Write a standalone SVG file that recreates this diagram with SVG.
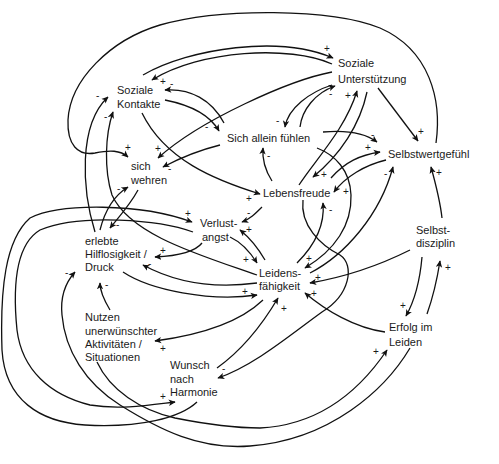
<svg xmlns="http://www.w3.org/2000/svg" width="499" height="464" viewBox="0 0 499 464">
<defs>
<marker id="ah" viewBox="0 0 10 10" refX="9" refY="5" markerWidth="7" markerHeight="7" markerUnits="userSpaceOnUse" orient="auto">
<path d="M0,0.5 L10,5 L0,9.5 L2.5,5 z" fill="#111"/>
</marker>
<style>
.n{font-family:"Liberation Sans",Arial,sans-serif;font-size:11px;fill:#1a1a1a}
.s{font-family:"Liberation Sans",Arial,sans-serif;font-size:10px;fill:#1a1a1a}
.c path{fill:none;stroke:#111;stroke-width:1.3}
.c path.a{marker-end:url(#ah)}
</style>
</defs>
<rect width="499" height="464" fill="#fff"/>
<g class="c" id="connectors">
<path class="a" d="M436,143 C442,100 430,50 380,28 C330,8 220,8 160,25 C110,40 70,80 68,120 C67,145 78,156 95,153 C110,150 120,150 128,157"/>
<path class="a" d="M143,75 C190,48 280,35 333,58"/>
<path class="a" d="M332,64 C290,45 200,50 152,80"/>
<path class="a" d="M332,72 C290,80 200,120 158,158"/>
<path class="a" d="M165,100 C190,105 210,115 219,131"/>
<path class="a" d="M224,123 C212,100 190,88 165,90"/>
<path class="a" d="M220,145 C200,150 180,158 163,167"/>
<path class="a" d="M142,113 C165,160 215,180 260,194"/>
<path class="a" d="M272,181 C265,170 262,160 263,148"/>
<path class="a" d="M332,85 C310,92 288,108 285,127"/>
<path class="a" d="M300,127 C302,110 315,93 335,86"/>
<path class="a" d="M378,88 L418,141"/>
<path class="a" d="M323,132 C345,130 365,133 377,142"/>
<path class="a" d="M331,178 C345,162 360,155 380,152"/>
<path class="a" d="M386,160 C365,165 345,177 334,192"/>
<path class="a" d="M310,273 C345,255 380,215 393,167"/>
<path class="a" d="M442,218 C440,200 436,185 431,167"/>
<path class="a" d="M410,250 C380,265 345,277 310,283"/>
<path class="a" d="M422,257 C420,280 415,300 406,316"/>
<path class="a" d="M427,314 C432,300 437,280 440,261"/>
<path class="a" d="M385,332 C355,328 325,310 305,293"/>
<path class="a" d="M97,362 C110,390 140,410 175,418 C210,425 240,428 260,428 C320,425 360,390 387,350"/>
<path class="a" d="M410,348 C385,390 330,440 250,446 C200,450 160,430 120,405 C85,383 65,350 62,315 C60,295 66,282 75,272"/>
<path class="a" d="M110,310 C104,300 100,292 100,283"/>
<path class="a" d="M197,402 C180,418 140,428 85,425 C40,422 5,400 2,350 C0,290 5,240 30,218 C60,203 140,203 192,222"/>
<path class="a" d="M193,232 C160,220 80,213 40,230 C15,245 13,290 17,330 C22,370 50,395 90,405 C120,410 150,405 175,402"/>
<path class="a" d="M202,243 C195,252 175,256 155,257"/>
<path class="a" d="M230,237 C243,243 252,255 257,263"/>
<path class="a" d="M265,260 C258,248 250,238 240,230"/>
<path class="a" d="M262,207 C255,214 250,219 242,222"/>
<path class="a" d="M257,283 C220,288 180,285 143,265"/>
<path class="a" d="M123,272 C150,290 210,302 257,295"/>
<path class="a" d="M263,300 C240,322 200,335 155,341"/>
<path class="a" d="M217,368 C245,348 265,320 278,298"/>
<path class="a" d="M303,200 C300,225 320,245 340,255 C355,265 350,295 322,312 C290,335 255,365 218,378"/>
<path class="a" d="M297,263 C315,245 325,225 323,203"/>
<path class="a" d="M317,148 C335,155 350,170 351,195 C352,225 335,250 305,268"/>
<path class="a" d="M367,92 C360,125 340,155 313,177"/>
<path class="a" d="M299,185 C315,160 345,130 357,91"/>
<path class="a" d="M95,232 C82,190 78,125 108,97"/>
<path class="a" d="M257,275 C200,255 130,235 112,195 C104,170 105,135 113,112"/>
<path class="a" d="M100,230 C105,210 115,195 128,187"/>
<path class="a" d="M138,190 C130,205 118,218 110,228"/>
</g>
<g id="signs">
<text class="s" x="125" y="151">+</text>
<text class="s" x="324" y="52">+</text>
<text class="s" x="160" y="85">+</text>
<text class="s" x="155" y="152">+</text>
<text class="s" x="205" y="130">-</text>
<text class="s" x="170" y="87">-</text>
<text class="s" x="168" y="172">-</text>
<text class="s" x="246" y="202">+</text>
<text class="s" x="267" y="159">-</text>
<text class="s" x="276" y="124">-</text>
<text class="s" x="329" y="97">-</text>
<text class="s" x="418" y="135">+</text>
<text class="s" x="371" y="138">-</text>
<text class="s" x="365" y="151">+</text>
<text class="s" x="343" y="195">+</text>
<text class="s" x="384" y="177">-</text>
<text class="s" x="436" y="176">+</text>
<text class="s" x="315" y="281">+</text>
<text class="s" x="400" y="309">+</text>
<text class="s" x="445" y="271">+</text>
<text class="s" x="311" y="297">+</text>
<text class="s" x="373" y="355">+</text>
<text class="s" x="65" y="276">-</text>
<text class="s" x="105" y="288">-</text>
<text class="s" x="185" y="217">+</text>
<text class="s" x="160" y="400">+</text>
<text class="s" x="160" y="254">+</text>
<text class="s" x="243" y="263">+</text>
<text class="s" x="246" y="233">+</text>
<text class="s" x="247" y="216">-</text>
<text class="s" x="148" y="267">-</text>
<text class="s" x="242" y="295">+</text>
<text class="s" x="160" y="352">+</text>
<text class="s" x="281" y="312">+</text>
<text class="s" x="222" y="372">-</text>
<text class="s" x="329" y="213">-</text>
<text class="s" x="306" y="262">+</text>
<text class="s" x="321" y="178">+</text>
<text class="s" x="345" y="99">+</text>
<text class="s" x="96" y="99">-</text>
<text class="s" x="104" y="120">-</text>
<text class="s" x="117" y="192">-</text>
<text class="s" x="116" y="228">-</text>
</g>
<g id="soziale-kontakte"><text class="n" x="117" y="94">Soziale</text><text class="n" x="117" y="108">Kontakte</text></g>
<g id="soziale-unterstuetzung"><text class="n" x="338" y="67">Soziale</text><text class="n" x="338" y="83">Unterstützung</text></g>
<g id="sich-allein"><text class="n" x="227" y="142">Sich allein fühlen</text></g>
<g id="selbstwertgefuehl"><text class="n" x="388" y="158">Selbstwertgefühl</text></g>
<g id="sich-wehren"><text class="n" x="131" y="170">sich</text><text class="n" x="131" y="184">wehren</text></g>
<g id="lebensfreude"><text class="n" x="263" y="197">Lebensfreude</text></g>
<g id="verlustangst"><text class="n" x="200" y="227">Verlust-</text><text class="n" x="202" y="241">angst</text></g>
<g id="hilflosigkeit"><text class="n" x="85" y="245">erlebte</text><text class="n" x="85" y="258">Hilflosigkeit /</text><text class="n" x="85" y="271">Druck</text></g>
<g id="selbstdisziplin"><text class="n" x="416" y="234">Selbst-</text><text class="n" x="416" y="247">disziplin</text></g>
<g id="leidensfaehigkeit"><text class="n" x="259" y="277">Leidens-</text><text class="n" x="259" y="290">fähigkeit</text></g>
<g id="nutzen"><text class="n" x="85" y="321">Nutzen</text><text class="n" x="85" y="335">unerwünschter</text><text class="n" x="85" y="348">Aktivitäten /</text><text class="n" x="85" y="361">Situationen</text></g>
<g id="wunsch"><text class="n" x="170" y="369">Wunsch</text><text class="n" x="170" y="383">nach</text><text class="n" x="170" y="396">Harmonie</text></g>
<g id="erfolg"><text class="n" x="389" y="331">Erfolg im</text><text class="n" x="389" y="346">Leiden</text></g>
</svg>
